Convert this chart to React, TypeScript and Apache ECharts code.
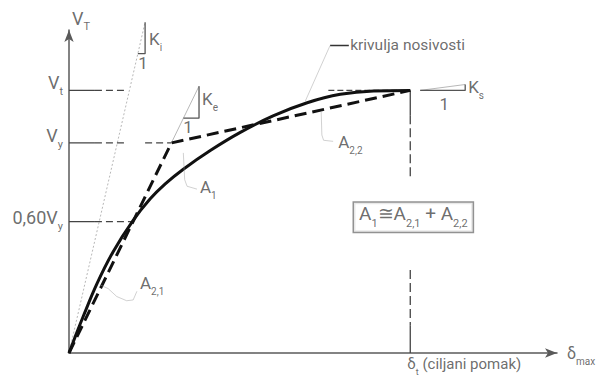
import React, { useEffect, useRef } from 'react';
import * as echarts from 'echarts';

// capacity curve ("krivulja nosivosti"), displacement δ vs base shear V
const curveDelta = [0, 2, 4.1, 8.2, 12.9, 18.8, 23.8, 28.2, 33.4, 41.4, 50.2, 59.8, 69.8, 79.5, 89.2, 100];
const curveV = [0, 6.8, 13.7, 26.4, 38.5, 50.5, 58.7, 64.4, 69.9, 77.1, 84, 90.3, 95.3, 98.5, 99.8, 100];
// idealised bilinear curve
const bilinearDelta = [0, 30, 100];
const bilinearV = [0, 80, 100];
// force levels marked on the V axis
const levelNames = ['V_t', 'V_y', '0,60V_y'];
const levelValues = [100, 80, 50];
// target displacement
const deltaTarget = 100;
// stiffnesses (slopes)
const stiffnessNames = ['K_i', 'K_e', 'K_s'];
const stiffnessValues = [5.65, 2.67, 0.17];

const F = 'Roboto, "Noto Sans", sans-serif';
const TXT = '#474747';
const AX = '#5a5a5a';

const rich = (size: number) => {
  const pad = Math.round(size * 0.3);
  const sub = Math.round(size * 0.6);
  return {
    n: { fontSize: size, fontFamily: F, color: TXT, lineHeight: size + 2 },
    m: { fontSize: size, fontFamily: F, color: TXT, lineHeight: size + 2, padding: [0, 0, pad, 0], verticalAlign: 'bottom' },
    s: { fontSize: sub, fontFamily: F, color: TXT, lineHeight: sub + 1, verticalAlign: 'bottom' },
  };
};

const fmt = (t: string) => {
  const i = t.indexOf('_');
  return i < 0 ? `{n|${t}}` : `{m|${t.slice(0, i)}}{s|${t.slice(i + 1)}}`;
};

function seg(data: number[][], color: string, width: number, type: any = 'solid', z = 2, clip = true) {
  return {
    type: 'line', data, symbol: 'none', silent: true, clip, z,
    lineStyle: { color, width, type, cap: 'butt' },
  };
}

function buildOption() {
  const [Vt, Vy] = levelValues;
  const [Ki, Ke, Ks] = stiffnessValues;
  const dy = bilinearDelta[1];
  const series: any[] = [];

  // level lines: solid stub then dashed
  const stub = 7.6;
  const dashEnd = [16.4, 16.4, 18.5];
  levelValues.forEach((v, i) => {
    series.push(seg([[0, v], [stub, v]], '#444', 1.3));
    series.push(seg([[stub, v], [dashEnd[i], v]], '#444', 1.3, [7, 4]));
  });
  series.push(seg([[22.3, Vy], [dy, Vy]], '#444', 1.3, [7, 4]));
  // Vt dashed right part
  series.push(seg([[76, Vt], [deltaTarget, Vt]], '#444', 1.2, [6, 3]));
  // vertical at target displacement (interrupted by the formula box)
  series.push(seg([[deltaTarget, Vt], [deltaTarget, 90.5]], '#444', 1.3));
  series.push(seg([[deltaTarget, 90.5], [deltaTarget, 67]], '#444', 1.3, [9, 4]));
  series.push(seg([[deltaTarget, 31.6], [deltaTarget, 10.6]], '#444', 1.3, [9, 4]));
  series.push(seg([[deltaTarget, 10.6], [deltaTarget, 0]], '#444', 1.3));

  // Ki line + triangle
  series.push(seg([[0, 0], [22.3, Ki * 22.3]], '#b0b0b0', 0.9, [2, 2], 1, false));
  series.push(seg([[22.3 - 12 / Ki, Ki * 22.3 - 12], [22.3, Ki * 22.3 - 12], [22.3, Ki * 22.3]], '#555', 1.3, 'solid', 2, false));
  // Ke line + triangle
  const keEnd = 38.1;
  series.push(seg([[dy, Vy], [keEnd, Vy + Ke * (keEnd - dy)]], '#b0b0b0', 0.9, 'solid', 1, false));
  const keBase = Vy + Ke * (keEnd - dy) - 12.2;
  series.push(seg([[dy + (keBase - Vy) / Ke, keBase], [keEnd, keBase], [keEnd, Vy + Ke * (keEnd - dy)]], '#555', 1.3));
  // Ks triangle
  const ks0 = 102.9, ks1 = 116.1;
  series.push(seg([[ks0, Vt], [ks1, Vt + Ks * (ks1 - ks0)]], '#b0b0b0', 0.9, 'solid', 1, false));
  series.push(seg([[ks0, Vt], [ks1, Vt], [ks1, Vt + Ks * (ks1 - ks0)]], '#555', 1.3));

  // bilinear dashed
  series.push(seg(bilinearDelta.map((d, i) => [d, bilinearV[i]]), '#111', 3, [12, 6], 4));
  // capacity curve
  series.push({
    type: 'line', data: curveDelta.map((d, i) => [d, curveV[i]]), symbol: 'none', smooth: 0.4,
    silent: true, z: 5, lineStyle: { color: '#111', width: 3 },
  });

  // leaders
  series.push({
    type: 'lines', coordinateSystem: 'cartesian2d', polyline: true, silent: true, z: 6,
    symbol: ['none', 'arrow'], symbolSize: 6,
    lineStyle: { color: '#9a9a9a', width: 0.9 },
    itemStyle: { color: '#333' },
    data: [
      { coords: [[76.5, 117.1], [69.2, 95.8]] },
      { coords: [[37.5, 62.4], [34.6, 63.5], [33.9, 66], [33.5, 76.2]] },
      { coords: [[77.4, 80.6], [74.6, 81.0], [74.1, 83], [73.9, 91.8]] },
      { coords: [[19.9, 23.5], [18.8, 20.2], [16.9, 19.9], [14, 21.5], [11.5, 24.5], [9.2, 25.9]] },
    ],
  });
  series.push(seg([[76.5, 117.1], [82, 117.1]], '#333', 1.5));

  const lbl = (value: number[], text: string, size: number, align: string, offset: number[], extra: any = {}) => ({
    value,
    label: {
      show: true, position: [0, 0], formatter: text, align, verticalAlign: 'middle', offset,
      rich: rich(size), ...extra,
    },
  });

  const labels = [
    lbl([0, 123], fmt('V_T'), 18, 'left', [3, -8]),
    lbl([0, levelValues[0]], fmt(levelNames[0]), 18, 'right', [-6, -3.5]),
    lbl([0, levelValues[1]], fmt(levelNames[1]), 18, 'right', [-6, -3]),
    lbl([0, levelValues[2]], fmt(levelNames[2]), 18, 'right', [-6, 0]),
    lbl([22.3, 119], fmt(stiffnessNames[0]), 17, 'left', [4, 2.5]),
    lbl([21.7, 110.5], '{n|1}', 17, 'center', [0, 0]),
    lbl([38.1, 96], fmt(stiffnessNames[1]), 17, 'left', [3, 2]),
    lbl([34.9, 86], '{n|1}', 17, 'center', [0, 0]),
    lbl([116.1, 100.4], fmt(stiffnessNames[2]), 17, 'left', [3, 2]),
    lbl([110, 95], '{n|1}', 17, 'center', [0, 0]),
    lbl([82.4, 117.1], '{n|krivulja nosivosti}', 15.5, 'left', [0, 0]),
    lbl([38.4, 62], fmt('A_1'), 17, 'left', [0, 0.5]),
    lbl([78.9, 79.8], fmt('A_2,2'), 17, 'left', [0, 2.5]),
    lbl([20.8, 25.9], fmt('A_2,1'), 17, 'left', [0, 2.5]),
    lbl([100.9, 51.7], '{m|A}{s|1}{m|≅A}{s|2,1}{m| + A}{s|2,2}', 19, 'center', [0, 0], {
      borderColor: '#777', borderWidth: 1.5, padding: [5, 5, 3, 5], backgroundColor: '#fff',
    }),
    lbl([deltaTarget, 0], '{m|δ}{s|t}{m| (ciljani pomak)}', 15, 'left', [-3, 15]),
    lbl([143, 0], '{m|δ}{s|max}', 16, 'left', [10, 4]),
  ];
  series.push({
    type: 'scatter', symbolSize: 0, silent: true, z: 10, clip: false, data: labels,
  });

  return {
    animation: false,
    grid: { left: 69, right: 39, top: 30, bottom: 25 },
    xAxis: {
      type: 'value', min: 0, max: 143,
      axisLine: { show: true, onZero: false, symbol: ['none', 'arrow'], symbolSize: [7, 12], lineStyle: { color: AX, width: 1.5 } },
      axisTick: { show: false }, axisLabel: { show: false }, splitLine: { show: false },
    },
    yAxis: {
      type: 'value', min: 0, max: 123,
      axisLine: { show: true, onZero: false, symbol: ['none', 'arrow'], symbolSize: [7, 12], lineStyle: { color: AX, width: 1.5 } },
      axisTick: { show: false }, axisLabel: { show: false }, splitLine: { show: false },
    },
    series,
  };
}

export default function App() {
  const ref = useRef<HTMLDivElement>(null);
  useEffect(() => {
    const chart = echarts.init(ref.current!, undefined, { renderer: 'svg' });
    chart.setOption(buildOption() as any);
    return () => chart.dispose();
  }, []);
  return <div ref={ref} style={{ width: 596, height: 378, position: 'absolute', left: 0, top: 0, background: '#fff' }} />;
}
